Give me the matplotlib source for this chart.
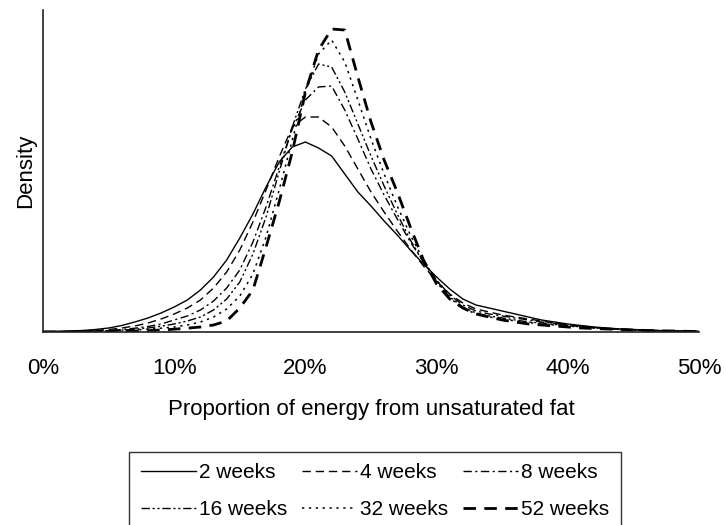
import matplotlib.pyplot as plt

# ─── Data ─────────────────────────────────────────────────────────────────────

pct = list(range(0, 51))     # proportion of energy from unsaturated fat, %

w2 = [0.5, 0.7, 1.0, 1.5, 2.5, 4, 6.5, 10, 14, 19,
      25, 32, 42, 55, 72, 94, 118, 145, 170, 185,
      190, 184, 176, 158, 140, 126, 111, 97, 82, 68,
      55, 43, 33, 27, 24, 21, 18, 15, 12, 10,
      8, 6.5, 5, 4, 3, 2.5, 2, 1.5, 1, 0.8, 0.5]
w4 = [0.3, 0.4, 0.6, 1.0, 1.5, 2.5, 4, 6, 9, 13,
      18, 24, 32, 44, 60, 82, 110, 142, 175, 205,
      215, 215, 205, 186, 163, 140, 120, 101, 83, 66,
      51, 38, 29, 23, 20, 17, 15, 13, 11, 9,
      7, 6, 4.5, 3.5, 2.8, 2.2, 1.7, 1.3, 1.0, 0.7, 0.5]
w8 = [0.2, 0.3, 0.4, 0.6, 1.0, 1.6, 2.5, 3.8, 5.5, 8,
      12, 16, 22, 31, 44, 62, 90, 125, 165, 203,
      232, 245, 246, 222, 193, 163, 137, 113, 90, 70,
      52, 37, 27, 21, 18, 16, 14, 12, 10, 8.5,
      7, 5.5, 4.5, 3.5, 2.8, 2.2, 1.7, 1.3, 1.0, 0.7, 0.5]
w16 = [0.2, 0.2, 0.3, 0.5, 0.8, 1.2, 1.8, 2.8, 4, 5.8,
       8, 11, 15, 22, 33, 50, 78, 115, 160, 205,
       243, 268, 265, 240, 208, 176, 146, 118, 92, 70,
       51, 35, 25, 19, 16, 14, 12, 10, 9, 7.5,
       6.5, 5, 4, 3.2, 2.5, 2, 1.5, 1.2, 0.9, 0.6, 0.4]
w32 = [0.1, 0.1, 0.2, 0.3, 0.5, 0.9, 1.3, 2, 2.8, 3.8,
       5, 7, 10, 15, 23, 36, 58, 95, 142, 192,
       240, 278, 292, 270, 232, 193, 158, 126, 97, 72,
       50, 34, 24, 18, 15, 13, 11, 9.5, 8, 7,
       6, 5, 4, 3.2, 2.5, 2, 1.5, 1.2, 0.9, 0.6, 0.4]
w52 = [0.1, 0.1, 0.1, 0.2, 0.3, 0.5, 0.7, 1, 1.4, 2,
       2.8, 3.8, 5, 7, 11, 24, 42, 85, 130, 180,
       240, 282, 303, 302, 255, 210, 172, 140, 105, 72,
       48, 33, 24, 18, 15, 12, 10, 8, 7, 6,
       5, 4, 3.5, 3, 2.5, 2, 1.5, 1.2, 1, 0.7, 0.5]

labels = ["2 weeks", "4 weeks", "8 weeks", "16 weeks", "32 weeks", "52 weeks"]
xticks = [0, 10, 20, 30, 40, 50]
xticklabels = ["0%", "10%", "20%", "30%", "40%", "50%"]

# ─── Plot ─────────────────────────────────────────────────────────────────────

plt.rcParams['font.family'] = ['Liberation Sans', 'DejaVu Sans']

fig = plt.figure(figsize=(7.26, 5.25), dpi=100)
ax = fig.add_axes([43 / 726, 1 - 332 / 525, 656 / 726, 322 / 525])

styles = [
    dict(ls="-", lw=1.0),
    dict(ls=(0, (6, 3.5)), lw=1.0),
    dict(ls=(0, (6, 2.5, 1.5, 2.5)), lw=1.0),
    dict(ls=(0, (6, 2, 1.5, 2, 1.5, 2)), lw=1.0),
    dict(ls=(0, (1.5, 3)), lw=1.1),
    dict(ls=(0, (4.5, 3)), lw=2.0),
]
series = [w2, w4, w8, w16, w32, w52]

handles = []
for vals, lab, st in zip(series, labels, styles):
    h, = ax.plot(pct, vals, color="black", label=lab, **st)
    handles.append(h)

ax.set_xlim(0, 50)
ax.set_ylim(0, 322)
ax.set_xticks(xticks)
ax.set_xticklabels(xticklabels)
ax.set_yticks([])
ax.tick_params(axis="x", length=0, pad=19, labelsize=16)
for s in ["top", "right"]:
    ax.spines[s].set_visible(False)
for s in ["left", "bottom"]:
    ax.spines[s].set_linewidth(1.2)
    ax.spines[s].set_color("#222222")

ax.set_xlabel("Proportion of energy from unsaturated fat", fontsize=16, labelpad=14)
ax.set_ylabel("Density", fontsize=16, labelpad=5)

# matplotlib fills legend columns first → reorder so rows read 2,4,8 / 16,32,52
order = [0, 3, 1, 4, 2, 5]
leg = fig.legend([handles[i] for i in order], [labels[i] for i in order],
                 ncol=3, loc="upper right",
                 bbox_to_anchor=(621 / 726, 1 - 452 / 525),
                 fontsize=15, frameon=True, fancybox=False,
                 handlelength=2.65, handletextpad=0.15, columnspacing=0.7,
                 labelspacing=0.84, borderpad=0.55, borderaxespad=0)
leg.get_frame().set_edgecolor("black")
leg.get_frame().set_linewidth(1.0)

plt.savefig("out.png", dpi=100)
